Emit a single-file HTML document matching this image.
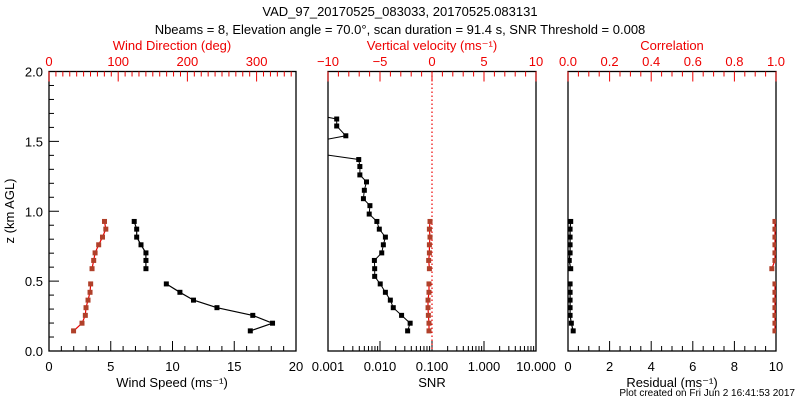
<!DOCTYPE html>
<html><head><meta charset="utf-8"><style>
body{margin:0;background:#fff}
svg{display:block;font-family:"Liberation Sans",sans-serif}
</style></head><body>
<svg id="c" width="800" height="400" xmlns="http://www.w3.org/2000/svg"></svg>
<script>
const zLevels=[0.144,0.199,0.255,0.31,0.364,0.42,0.48,0.589,0.648,0.702,0.76,0.815,0.872,0.927];
const windSpeed=[16.3,18.1,16.5,13.6,11.7,10.6,9.5,7.85,7.85,7.85,7.45,7.1,7.1,6.9];
const windDir=[35.5,47.7,52.5,53.5,56.4,59.3,60.2,62.2,64.6,66.6,71.8,77.3,82.1,80.2];
const vertVel=[-0.29,-0.29,-0.35,-0.38,-0.38,-0.29,-0.29,-0.25,-0.32,-0.25,-0.25,-0.19,-0.25,-0.19];
const residual=[0.25,0.16,0.1,0.1,0.1,0.1,0.1,0.13,0.06,0.1,0.1,0.1,0.1,0.13];
const correlation=[0.995,0.995,0.995,0.995,0.995,0.995,0.995,0.98,0.995,0.995,0.995,0.995,0.995,0.995];
const snrZ=[0.144,0.199,0.255,0.31,0.364,0.42,0.48,0.534,0.589,0.648,0.702,0.76,0.815,0.872,0.927,0.98,1.04,1.09,1.15,1.21,1.26,1.32,1.37,1.43,1.48,1.54,1.61,1.66,1.71];
const snrVal=[0.034,0.038,0.026,0.018,0.0158,0.0127,0.0101,0.0079,0.0079,0.0078,0.0108,0.0116,0.0127,0.0097,0.0087,0.0062,0.0064,0.0048,0.005,0.0055,0.0041,0.0041,0.0039,0.0003,0.0003,0.0022,0.00147,0.00147,0.0003];

const svg=document.getElementById('c');
const NS='http://www.w3.org/2000/svg';
const T=71.5,B=351;
const zy=z=>B-(B-T)*z/2;
function el(tag,attrs,parent){const e=document.createElementNS(NS,tag);for(const k in attrs)e.setAttribute(k,attrs[k]);(parent||svg).appendChild(e);return e;}
function text(x,y,s,anchor,color,size,name){const t=el('text',{x:x,y:y,'text-anchor':anchor||'middle',fill:color||'#000','font-size':size||13});t.textContent=s;

return t;}
function line(x1,y1,x2,y2,c,w,dash){return el('line',{x1,y1,x2,y2,stroke:c||'#000','stroke-width':w||1,'stroke-dasharray':dash||'none'});}

const panels=[{L:49,R:296,n:'wind'},{L:328,R:536,n:'snr'},{L:568,R:776,n:'residual'}];
panels.forEach((p,i)=>{const r=el('rect',{x:p.L,y:T,width:p.R-p.L,height:B-T,fill:'none',stroke:'#000','stroke-width':1.3});


el('clipPath',{id:'cp'+i}).appendChild(Object.assign(document.createElementNS(NS,'rect'),{})).setAttribute('x',p.L);
const cr=document.getElementById('cp'+i).firstChild;cr.setAttribute('y',T);cr.setAttribute('width',p.R-p.L);cr.setAttribute('height',B-T);});

// y axis panel 1
for(let k=0;k<=20;k++){const z=k/10,y=zy(z),maj=k%5==0;line(49,y,49+(maj?10:5),y);
if(maj)text(43,y+5,z.toFixed(1),'end','#000',13,'y-tick-label');}
const yt=text(14,211,'z (km AGL)','middle','#000',13,'y-axis-title');yt.setAttribute('transform','rotate(-90 14 211)');

// panel1 axes
const sx=v=>49+v*247/20, dx=v=>49+v*0.692;
for(let v=0;v<=20;v++){const x=sx(v),maj=v%5==0;line(x,B,x,B-(maj?10:5));if(maj)text(x,371,String(v),'middle','#000',13,'x-tick-label');}
for(let v=0;v<=350;v+=10){const x=dx(v),maj=v%100==0;line(x,T,x,T+(maj?10:5),'#e00');if(maj)text(x,66,String(v),'middle','#e00',13,'top-tick-label');}
text(172,387,'Wind Speed (ms\u207B\u00B9)','middle','#000',13,'x-axis-title-wind-speed');
text(172,50,'Wind Direction (deg)','middle','#e00',13,'top-axis-title-wind-direction');

// panel2 axes
const lx=v=>328+(Math.log10(v)+3)*52, vx=v=>432+v*10.4;
[0.001,0.01,0.1,1,10].forEach((d,i)=>{line(lx(d),B,lx(d),B-10);text(lx(d),371,['0.001','0.010','0.100','1.000','10.000'][i],'middle','#000',13,'x-tick-label');
if(d<10)for(let m=2;m<10;m++)line(lx(d*m),B,lx(d*m),B-5);});
for(let v=-10;v<=10;v++){const x=vx(v),maj=v%5==0;line(x,T,x,T+(maj?10:5),'#e00');if(maj)text(x,66,v<0?'\u2212'+(-v):String(v),'middle','#e00',13,'top-tick-label');}
text(432,387,'SNR','middle','#000',13,'x-axis-title-snr');
text(432,50,'Vertical velocity (ms\u207B\u00B9)','middle','#e00',13,'top-axis-title-vertical-velocity');
const zl=line(vx(0),T,vx(0),B,'#e00',1.2,'1.5,2.5');

// panel3 axes
const rx=v=>568+v*20.8, cx=v=>568+v*208;
for(let v=0;v<=20;v++){const x=rx(v/2),maj=v%4==0;line(x,B,x,B-(maj?10:5));if(maj)text(x,371,String(v/2),'middle','#000',13,'x-tick-label');}
for(let v=0;v<=20;v++){const x=cx(v/20),maj=v%4==0;line(x,T,x,T+(maj?10:5),'#e00');if(maj)text(x,66,(v/20).toFixed(1),'middle','#e00',13,'top-tick-label');}
text(672,387,'Residual (ms\u207B\u00B9)','middle','#000',13,'x-axis-title-residual');
text(672,50,'Correlation','middle','#e00',13,'top-axis-title-correlation');

// titles
text(400,16,'VAD_97_20170525_083033, 20170525.083131','middle','#000',13,'chart-title');
text(400,34,'Nbeams = 8, Elevation angle = 70.0\u00B0, scan duration = 91.4 s, SNR Threshold = 0.008','middle','#000',13,'chart-subtitle');
text(795,396,'Plot created on Fri Jun  2 16:41:53 2017','end','#000',10,'plot-timestamp');

function series(xs,zs,fx,color,lc,clip,name){const g=el('g',{'clip-path':'url(#'+clip+')'});


const pts=xs.map((v,i)=>[fx(v),zy(zs[i])]);
// draw segments, break where z-gap large
let d='';pts.forEach((p,i)=>{const br=i==0||(zs[i]-zs[i-1]>0.08);d+=(br?'M':'L')+p[0].toFixed(1)+','+p[1].toFixed(1);});
el('path',{d:d,fill:'none',stroke:lc,'stroke-width':1.2},g);
pts.forEach(p=>{const m=el('rect',{x:p[0]-2.5,y:p[1]-2.5,width:5,height:5,fill:color},g);

});}
series(windSpeed,zLevels,sx,'#000','#000','cp0','wind-speed-series');
series(windDir,zLevels,dx,'#b0402a','#e00','cp0','wind-direction-series');
// SNR: continuous line
(function(){const g=el('g',{'clip-path':'url(#cp1)'});


let d='';snrVal.forEach((v,i)=>{d+=(i?'L':'M')+lx(v).toFixed(1)+','+zy(snrZ[i]).toFixed(1);});
el('path',{d:d,fill:'none',stroke:'#000','stroke-width':1},g);
snrVal.forEach((v,i)=>{const m=el('rect',{x:lx(v)-2.5,y:zy(snrZ[i])-2.5,width:5,height:5,fill:'#000'},g);

});})();
series(vertVel,zLevels,vx,'#b0402a','#e00','cp1','vertical-velocity-series');
series(residual,zLevels,rx,'#000','#000','cp2','residual-series');
series(correlation,zLevels,cx,'#b0402a','#e00','cp2','correlation-series');
</script>
</body></html>
